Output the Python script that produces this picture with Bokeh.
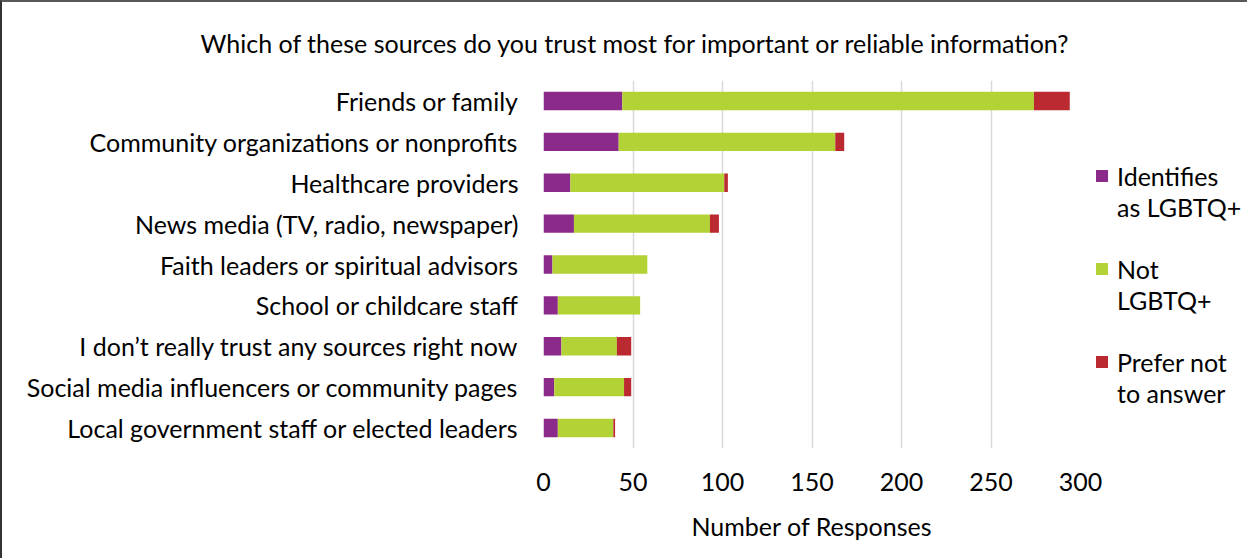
from bokeh.plotting import figure
from bokeh.models import FactorRange, Legend, LegendItem, Title, SingleIntervalTicker
from bokeh.embed import file_html
from bokeh.resources import INLINE

categories = [
    "Friends or family",
    "Community organizations or nonprofits",
    "Healthcare providers",
    "News media (TV, radio, newspaper)",
    "Faith leaders or spiritual advisors",
    "School or childcare staff",
    "I don\u2019t really trust any sources right now",
    "Social media influencers or community pages",
    "Local government staff or elected leaders",
]
lgbtq = [44, 42, 15, 17, 5, 8, 10, 6, 8]
not_lgbtq = [230, 121, 86, 76, 53, 46, 31, 39, 31]
prefer_not = [20, 5, 2, 5, 0, 0, 8, 4, 1]

# legend labels, split over two lines as in the original
series_names = [("Identifies", "as LGBTQ+"), ("Not", "LGBTQ+"), ("Prefer not", "to answer")]
colors = ["#8C2A8B", "#B2D236", "#BB2A31"]

FONT = "Lato"
FS = "25px"

p = figure(
    frame_width=537, frame_height=368,
    y_range=FactorRange(factors=categories[::-1]),
    x_range=(0, 300),
    output_backend="svg", toolbar_location=None,
    min_border_left=541, min_border_right=165,
    min_border_top=78, min_border_bottom=110,
)
p.styles = {"border-top": "2px solid #595959", "border-left": "2px solid #333333"}
p.outline_line_color = None
p.background_fill_color = "white"

data = dict(cat=categories, a=lgbtq, b=not_lgbtq, c=prefer_not)
stack = p.hbar_stack(["a", "b", "c"], y="cat", height=0.45, source=data,
                     color=colors, line_color=None)

# invisible renderer used only to carry the second text line of each legend entry
blank = p.scatter(x=[], y=[], fill_alpha=0, line_alpha=0)

p.xaxis.ticker = SingleIntervalTicker(interval=50)
p.xgrid.grid_line_color = "#D9D9D9"
p.xgrid.grid_line_width = 1.5
p.ygrid.grid_line_color = None

for ax in (p.xaxis[0], p.yaxis[0]):
    ax.axis_line_color = None
    ax.major_tick_line_color = None
    ax.minor_tick_line_color = None
    ax.major_label_text_font = FONT
    ax.major_label_text_font_size = FS
    ax.major_label_text_color = "#000000"

p.yaxis.major_label_standoff = 19
p.xaxis.major_label_standoff = 18
p.xaxis.axis_label = "Number of Responses"
p.xaxis.axis_label_text_font = FONT
p.xaxis.axis_label_text_font_size = FS
p.xaxis.axis_label_text_font_style = "normal"
p.xaxis.axis_label_text_color = "#000000"
p.xaxis.axis_label_standoff = 17

title = Title(text="Which of these sources do you trust most for important or reliable information?",
              text_font=FONT, text_font_size=FS, text_font_style="normal",
              align="left", offset=-343, standoff=42, vertical_align="top",
              text_color="#000000")
p.add_layout(title, "above")

items = []
for i in range(3):
    items.append(LegendItem(label=series_names[i][0], renderers=[stack[i]]))
    items.append(LegendItem(label=series_names[i][1], renderers=[blank]))
    if i < 2:
        items.append(LegendItem(label=" ", renderers=[blank]))

legend = Legend(items=items, location=(14, 40), label_text_font=FONT,
                label_text_font_size=FS, label_text_color="#000000",
                label_height=31, glyph_width=15, glyph_height=15, label_standoff=8,
                spacing=0, padding=0, margin=0, border_line_color=None,
                background_fill_alpha=0)
p.add_layout(legend, "right")

open("out.html", "w").write(file_html(p, INLINE))
